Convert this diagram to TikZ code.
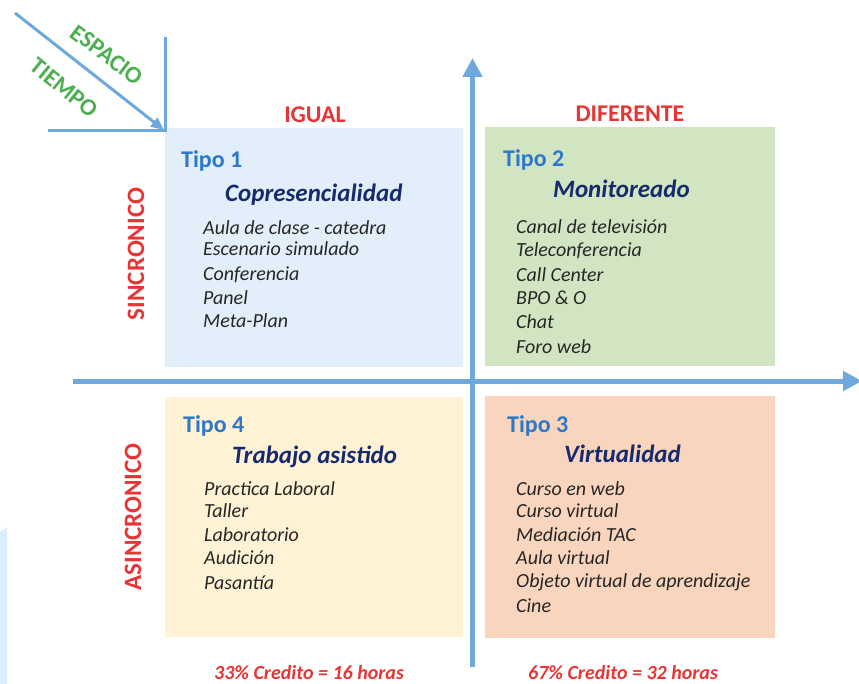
\documentclass[tikz,border=0pt]{standalone}
\usepackage{fontspec}
\setmainfont{Carlito}
\usetikzlibrary{arrows.meta}
\definecolor{axisblue}{RGB}{111,168,220}
\definecolor{fillA}{RGB}{226,238,249}
\definecolor{fillB}{RGB}{210,229,194}
\definecolor{fillC}{RGB}{249,213,190}
\definecolor{fillD}{RGB}{255,242,213}
\definecolor{tipoblue}{RGB}{46,120,200}
\definecolor{navy}{RGB}{22,42,110}
\definecolor{redlab}{RGB}{232,52,52}
\definecolor{greenlab}{RGB}{76,175,80}
\definecolor{sliver}{RGB}{217,238,252}
\tikzset{
  quad/.style={draw=none, inner sep=0pt, anchor=north west},
  tipo/.style={anchor=base west, inner sep=0pt, text=tipoblue, font=\fontsize{24}{28}\selectfont\bfseries},
  ttl/.style={anchor=base west, inner sep=0pt, text=navy, font=\fontsize{25}{29}\selectfont\bfseries\itshape},
  item/.style={anchor=base west, inner sep=0pt, text=black!85, font=\fontsize{20}{24}\selectfont\itshape},
  head/.style={anchor=base, inner sep=0pt, text=redlab, font=\fontsize{24}{28}\selectfont\bfseries},
  side/.style={inner sep=0pt, text=redlab, rotate=90, font=\fontsize{25}{29}\selectfont\bfseries},
  credit/.style={anchor=base west, inner sep=0pt, text=redlab, font=\fontsize{20}{24}\selectfont\bfseries\itshape},
  corner/.style={inner sep=0pt, text=greenlab, font=\fontsize{24}{28}\selectfont\bfseries},
  axis/.style={draw=axisblue, line width=5pt, -{Triangle[length=19pt,width=19pt]}},
  thin/.style={draw=axisblue, line width=3pt},
}
\begin{document}
\begin{tikzpicture}[x=1pt,y=-1pt]
\useasboundingbox (0,0) rectangle (859,684);
% sliver at left edge
\fill[sliver] (0,532) -- (7,527) -- (7,684) -- (0,684) -- cycle;
% quadrant boxes
\node[quad, fill=fillA, minimum width=298pt, minimum height=239pt] (b1) at (165,128) {};
\node[quad, fill=fillB, minimum width=290pt, minimum height=239pt] (b2) at (485,127) {};
\node[quad, fill=fillD, minimum width=298pt, minimum height=240pt] (b4) at (165,397) {};
\node[quad, fill=fillC, minimum width=290pt, minimum height=242pt] (b3) at (485,396) {};
% axes
\coordinate (vb) at (472.5,667);
\coordinate (vt) at (472.5,58);
\coordinate (hl) at (73,381);
\coordinate (hr) at (862,381);
\draw[axis] (vb) -- (vt);
\draw[axis] (hl) -- (hr);
% corner
\coordinate (cv1) at (165,37);
\coordinate (cv2) at (165,132.5);
\coordinate (ch1) at (48,131);
\coordinate (ch2) at (166.5,131);
\coordinate (d1) at (15,13);
\coordinate (d2) at (164,130);
\draw[thin] (cv1) -- (cv2);
\draw[thin] (ch1) -- (ch2);
\draw[thin, -{Triangle[length=13pt,width=11pt]}] (d1) -- (d2);
\node[corner, rotate=-37] (esp) at (107,55) {ESPACIO};
\node[corner, rotate=-39] (tie) at (64,88) {TIEMPO};
% headers
\node[head] (igual) at (315,123) {IGUAL};
\node[head] (dif) at (630,122) {DIFERENTE};
\node[side] (sinc) at (136,254) {SINCRONICO};
\node[side] (asinc) at (133,517) {ASINCRONICO};
% box 1
\node[tipo] (t1) at (181,168) {Tipo 1};
\node[ttl] (n1) at (225,201.5) {Copresencialidad};
\node[item] (i11) at (203,235) {Aula de clase - catedra};
\node[item] (i12) at (203,256) {Escenario simulado};
\node[item] (i13) at (203,281) {Conferencia};
\node[item] (i14) at (203,305) {Panel};
\node[item] (i15) at (203,328) {Meta-Plan};
% box 2
\node[tipo] (t2) at (503,167) {Tipo 2};
\node[ttl] (n2) at (553,198) {Monitoreado};
\node[item] (i21) at (516,234) {Canal de televisión};
\node[item] (i22) at (516,257) {Teleconferencia};
\node[item] (i23) at (516,282) {Call Center};
\node[item] (i24) at (516,305) {BPO \& O};
\node[item] (i25) at (516,329) {Chat};
\node[item] (i26) at (516,353) {Foro web};
% box 4
\node[tipo] (t4) at (183,432) {Tipo 4};
\node[ttl] (n4) at (232,463) {Trabajo asistido};
\node[item] (i41) at (204,495) {Practica Laboral};
\node[item] (i42) at (204,517) {Taller};
\node[item] (i43) at (204,541) {Laboratorio};
\node[item] (i44) at (204,564) {Audición};
\node[item] (i45) at (204,589) {Pasantía};
% box 3
\node[tipo] (t3) at (507,432) {Tipo 3};
\node[ttl] (n3) at (564,462) {Virtualidad};
\node[item] (i31) at (516,495) {Curso en web};
\node[item] (i32) at (516,517) {Curso virtual};
\node[item] (i33) at (516,541) {Mediación TAC};
\node[item] (i34) at (516,564) {Aula virtual};
\node[item] (i35) at (516,587) {Objeto virtual de aprendizaje};
\node[item] (i36) at (516,612) {Cine};
% credits
\node[credit] (c1) at (214,679) {33\% Credito = 16 horas};
\node[credit] (c2) at (528,679) {67\% Credito = 32 horas};
\end{tikzpicture}
\end{document}
